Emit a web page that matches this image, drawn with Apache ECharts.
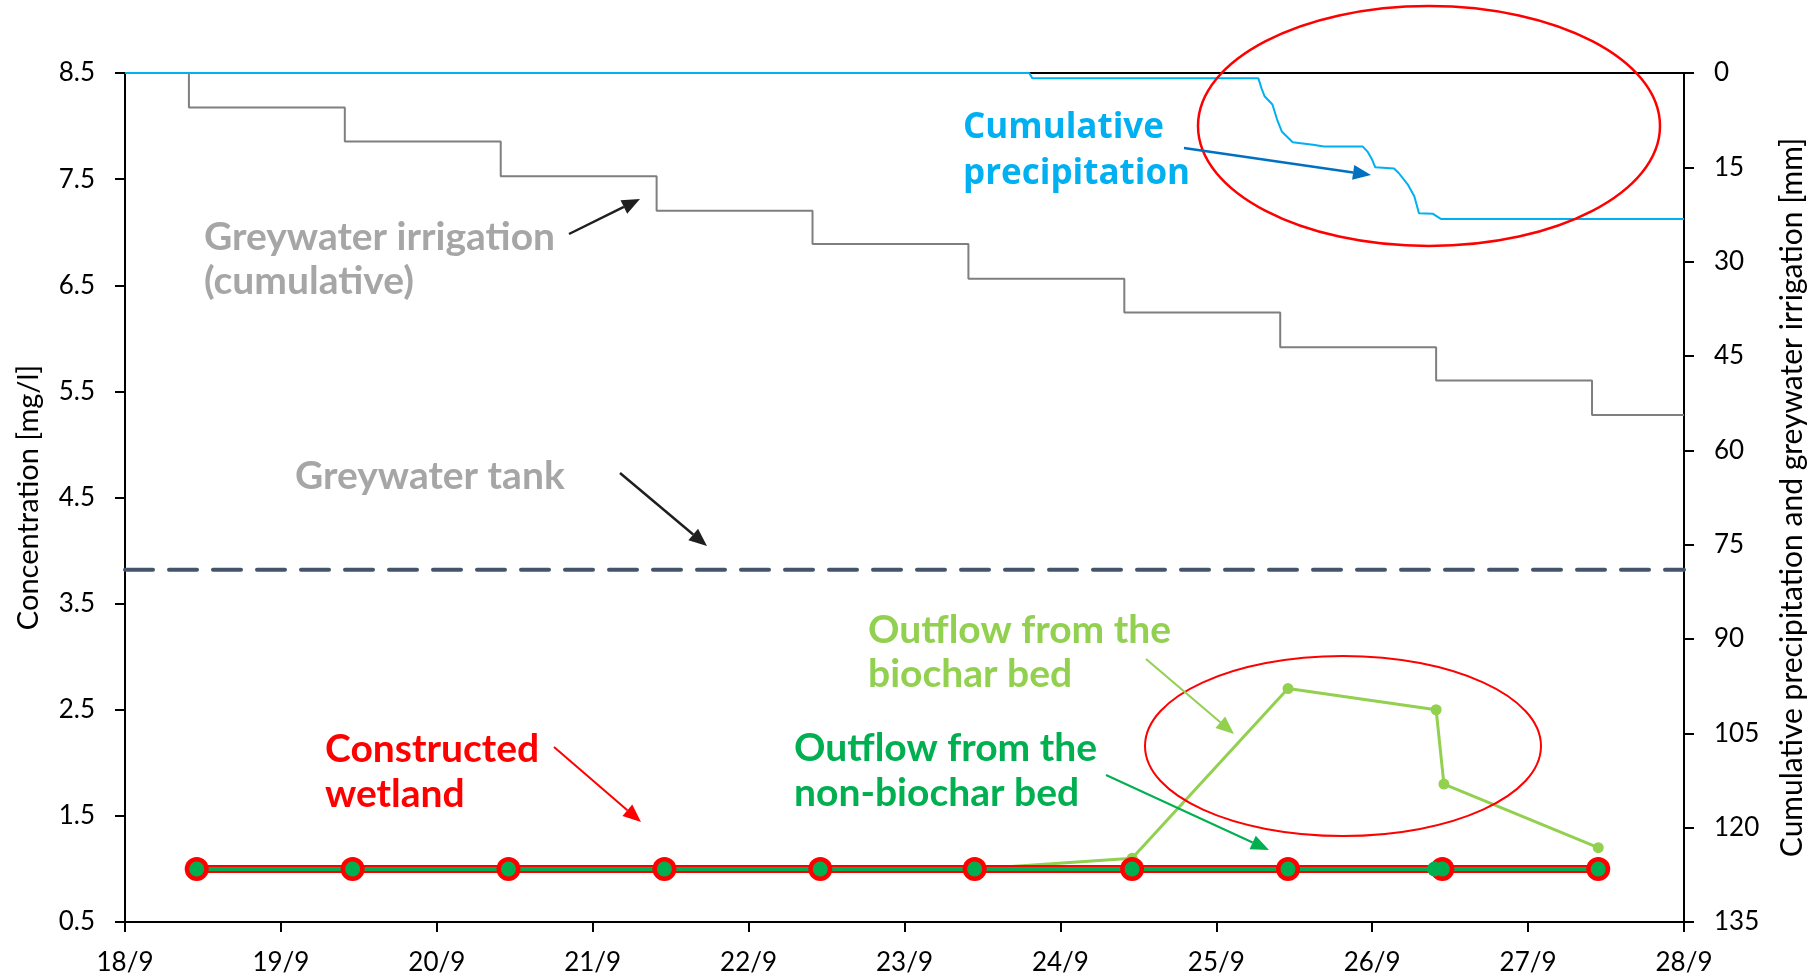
<!DOCTYPE html>
<html>
<head>
<meta charset="utf-8">
<title>Concentration and cumulative precipitation</title>
<script src="https://cdn.jsdelivr.net/npm/echarts@6/dist/echarts.min.js"></script>
<style>
html,body{margin:0;padding:0;background:#fff;}
#chart{width:1814px;height:978px;}
</style>
</head>
<body>
<div id="chart"></div>
<script>
// x values = day of September (fraction = time of day)
var sampleDays = [18.46, 19.46, 20.46, 21.46, 22.46, 23.45, 24.46, 25.46, 26.45, 27.45];
var wetland = [1, 1, 1, 1, 1, 1, 1, 1, 1, 1];

var nonBiocharDays = [18.46, 19.46, 20.46, 21.46, 22.46, 23.45, 24.46, 25.46, 26.40, 26.45, 27.45];
var nonBiochar = [1, 1, 1, 1, 1, 1, 1, 1, 1, 1, 1];

var biocharDays = [18.46, 19.46, 20.46, 21.46, 22.46, 23.45, 24.46, 25.46, 26.41, 26.46, 27.45];
var biochar = [1, 1, 1, 1, 1, 1, 1.1, 2.7, 2.5, 1.8, 1.2];

var tankDays = [18, 28];
var tank = [3.82, 3.82];

// right axis (mm)
var irrigationDays = [18, 18.41, 19.41, 20.41, 21.41, 22.41, 23.41, 24.41, 25.41, 26.41, 27.41, 28];
var irrigation = [0, 5.5, 10.9, 16.4, 21.9, 27.2, 32.7, 38.1, 43.6, 48.9, 54.4, 54.4];

var rainDays = [18, 23.80, 23.82, 25.27, 25.29, 25.31, 25.36, 25.39, 25.42, 25.49, 25.62, 25.69,
    25.94, 25.97, 26.00, 26.02, 26.14, 26.17, 26.23, 26.27, 26.30, 26.39, 26.44, 28];
var rain = [0, 0, 0.85, 0.85, 2.45, 3.7, 5.0, 7.4, 9.3, 11.0, 11.4, 11.7,
    11.7, 12.5, 13.8, 15.0, 15.2, 15.9, 17.8, 19.6, 22.3, 22.4, 23.2, 23.2];

function pairs(xs, ys) {
    return xs.map(function (x, i) { return [x, ys[i]]; });
}

function arrow(x1, y1, x2, y2, color, w) {
    var ang = Math.atan2(y2 - y1, x2 - x1);
    var hl = 18, hw = 7.5;
    var bx = x2 - hl * Math.cos(ang), by = y2 - hl * Math.sin(ang);
    var px = -Math.sin(ang) * hw, py = Math.cos(ang) * hw;
    return [
        {type: 'line', z: 100, shape: {x1: x1, y1: y1, x2: bx, y2: by}, style: {stroke: color, lineWidth: w}},
        {type: 'polygon', z: 100, shape: {points: [[x2, y2], [bx + px, by + py], [bx - px, by - py]]}, style: {fill: color}}
    ];
}

function note(text, x, y, color, font) {
    return {type: 'text', z: 100, x: x, y: y,
        style: {text: text, fill: color, font: font, align: 'left', verticalAlign: 'middle'}};
}

var boldFont = 'bold 39px Lato';
var blueFont = 'bold 35px "Open Sans"';

var chart = echarts.init(document.getElementById('chart'));

var graphics = [
    {type: 'ellipse', z: 90, shape: {cx: 1429, cy: 126, rx: 231, ry: 120}, style: {fill: 'none', stroke: '#ff0000', lineWidth: 2.5}},
    {type: 'ellipse', z: 90, shape: {cx: 1343, cy: 746, rx: 198, ry: 90}, style: {fill: 'none', stroke: '#ff0000', lineWidth: 2}},
    note('Cumulative', 963, 128, '#00b0f0', blueFont),
    note('precipitation', 963, 174, '#00b0f0', blueFont),
    note('Greywater irrigation', 204, 237, '#a6a6a6', boldFont),
    note('(cumulative)', 204, 281, '#a6a6a6', boldFont),
    note('Greywater tank', 295, 476, '#a6a6a6', boldFont),
    note('Constructed', 325, 749, '#ff0000', boldFont),
    note('wetland', 325, 794, '#ff0000', boldFont),
    note('Outflow from the', 868, 630, '#92d050', boldFont),
    note('biochar bed', 868, 674, '#92d050', boldFont),
    note('Outflow from the', 794, 748, '#00b050', boldFont),
    note('non-biochar bed', 794, 793, '#00b050', boldFont)
]
    .concat(arrow(1184, 148, 1371, 175, '#0070c0', 2.5))
    .concat(arrow(569, 234, 640, 199, '#1f1f1f', 2.5))
    .concat(arrow(620, 473, 707, 546, '#1f1f1f', 2.5))
    .concat(arrow(554, 747, 641, 822, '#ff0000', 2))
    .concat(arrow(1146, 659, 1234, 734, '#92d050', 2))
    .concat(arrow(1106, 775, 1269, 850, '#00b050', 2));

var option = {
    backgroundColor: '#fff',
    animation: false,
    grid: {left: 125, right: 130, top: 73, bottom: 56, show: true, borderColor: '#000', borderWidth: 2,
        outerBoundsMode: 'none', containLabel: false},
    xAxis: {
        type: 'value', min: 18, max: 28, interval: 1,
        axisLine: {show: true, onZero: false, lineStyle: {color: '#000', width: 2}},
        axisTick: {show: true, length: 10, lineStyle: {color: '#000', width: 2}},
        axisLabel: {
            formatter: function (v) { return v + '/9'; },
            fontFamily: 'Lato', fontSize: 26, color: '#000', margin: 28
        },
        splitLine: {show: false}
    },
    yAxis: [
        {
            type: 'value', min: 0.5, max: 8.5, interval: 1,
            name: 'Concentration [mg/l]', nameLocation: 'middle', nameRotate: 90, nameGap: 82,
            nameTextStyle: {fontFamily: 'Lato', fontSize: 29, color: '#000'},
            axisLine: {show: true, onZero: false, lineStyle: {color: '#000', width: 2}},
            axisTick: {show: true, length: 10, lineStyle: {color: '#000', width: 2}},
            axisLabel: {
                formatter: function (v) { return v.toFixed(1); },
                fontFamily: 'Lato', fontSize: 26, color: '#000', margin: 30
            },
            splitLine: {show: false}
        },
        {
            type: 'value', min: 0, max: 135, interval: 15, inverse: true, position: 'right',
            name: 'Cumulative precipitation and greywater irrigation [mm]', nameLocation: 'middle',
            nameRotate: 90, nameGap: 93,
            nameTextStyle: {fontFamily: 'Lato', fontSize: 30, color: '#000'},
            axisLine: {show: true, onZero: false, lineStyle: {color: '#000', width: 2}},
            axisTick: {show: true, length: 10, lineStyle: {color: '#000', width: 2}},
            axisLabel: {fontFamily: 'Lato', fontSize: 26, color: '#000', margin: 30},
            splitLine: {show: false}
        }
    ],
    graphic: graphics,
    series: [
        {
            name: 'Greywater irrigation', type: 'line', yAxisIndex: 1, step: 'end',
            data: pairs(irrigationDays, irrigation), showSymbol: false,
            lineStyle: {color: '#7f7f7f', width: 2}
        },
        {
            name: 'Cumulative precipitation', type: 'line', yAxisIndex: 1,
            data: pairs(rainDays, rain), showSymbol: false,
            lineStyle: {color: '#00b0f0', width: 2}
        },
        {
            name: 'Greywater tank', type: 'line', yAxisIndex: 0,
            data: pairs(tankDays, tank), showSymbol: false,
            lineStyle: {color: '#44546a', width: 4, type: [28, 16], cap: 'round'}
        },
        {
            name: 'Outflow from the biochar bed', type: 'line',
            data: pairs(biocharDays, biochar), symbol: 'circle', symbolSize: 11,
            itemStyle: {color: '#92d050'}, lineStyle: {color: '#92d050', width: 3}
        },
        {
            name: 'Constructed wetland', type: 'line',
            data: pairs(sampleDays, wetland), symbol: 'circle', symbolSize: 24,
            itemStyle: {color: '#ff0000'}, lineStyle: {color: '#ff0000', width: 8}
        },
        {
            name: 'Outflow from the non-biochar bed', type: 'line',
            data: pairs(nonBiocharDays, nonBiochar), symbol: 'circle', symbolSize: 15,
            itemStyle: {color: '#00b050'}, lineStyle: {color: '#00b050', width: 4}
        }
    ]
};

chart.setOption(option);
window.addEventListener('resize', function () {
    chart.resize();
});
</script>
</body>
</html>
